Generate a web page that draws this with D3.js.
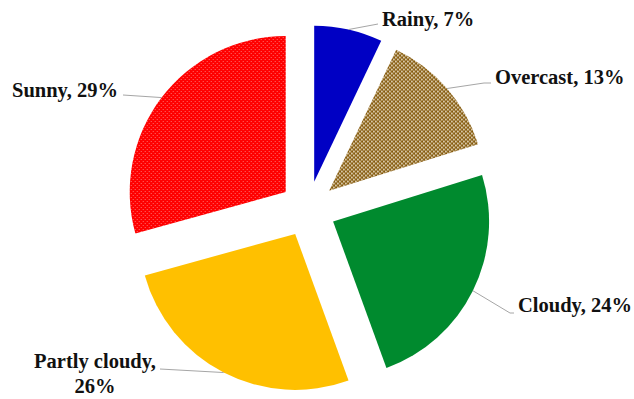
<!DOCTYPE html>
<html>
<head>
<meta charset="utf-8">
<script src="https://cdn.jsdelivr.net/npm/d3@7/dist/d3.min.js"></script>
<style>
  html, body { margin: 0; padding: 0; background: #fff; }
  svg { display: block; }
</style>
</head>
<body>
<svg id="chart" width="634" height="399"></svg>
<script>
// Weather condition shares (percent)
const categories = ["Rainy", "Overcast", "Cloudy", "Partly cloudy", "Sunny"];
const shares = [7, 13, 24, 26, 29];
const labelLines = [["Rainy, 7%"], ["Overcast, 13%"], ["Cloudy, 24%"], ["Partly cloudy,", "26%"], ["Sunny, 29%"]];

// Fills per category
const fills = ["#0000C4", "url(#brownDots)", "#008A2E", "#FFC000", "url(#redDots)"];

// Label placement: text anchor point, alignment and leader-line path after the arc point
const labelLayout = [
  { x: 382, y: 26, anchor: "start", leader: [[378, 24]] },
  { x: 495, y: 84, anchor: "start", leader: [[484, 83], [491, 83]] },
  { x: 518, y: 312, anchor: "start", leader: [[510, 313], [514, 313]] },
  { x: 95, y: 368, anchor: "middle", leader: [[160, 369]] },
  { x: 118, y: 97, anchor: "end", leader: [[123, 95]] }
];

const svg = d3.select("#chart");
const cx = 308, cy = 209, radius = 156, explode = 28;

// Patterned fills
const defs = svg.append("defs");
const brown = defs.append("pattern").attr("id", "brownDots")
  .attr("patternUnits", "userSpaceOnUse").attr("width", 4).attr("height", 4);
brown.append("rect").attr("width", 4).attr("height", 4).attr("fill", "#84590C");
brown.append("rect").attr("x", 0).attr("y", 0).attr("width", 1.6).attr("height", 1.6).attr("fill", "#FAF3E4");
brown.append("rect").attr("x", 2).attr("y", 2).attr("width", 1.6).attr("height", 1.6).attr("fill", "#FAF3E4");

const red = defs.append("pattern").attr("id", "redDots")
  .attr("patternUnits", "userSpaceOnUse").attr("width", 4).attr("height", 4);
red.append("rect").attr("width", 4).attr("height", 4).attr("fill", "#FF0000");
red.append("rect").attr("x", 1).attr("y", 1).attr("width", 1).attr("height", 1).attr("fill", "#FF7070");
red.append("rect").attr("x", 3).attr("y", 3).attr("width", 1).attr("height", 1).attr("fill", "#FF7070");

const pie = d3.pie().sort(null).value(d => d);
const arcs = pie(shares);
const arc = d3.arc().innerRadius(0).outerRadius(radius);

const g = svg.append("g").attr("transform", `translate(${cx},${cy})`);

function offset(a) {
  const mid = (a.startAngle + a.endAngle) / 2;
  return [explode * Math.sin(mid), -explode * Math.cos(mid)];
}

g.selectAll("path.slice")
  .data(arcs)
  .join("path")
  .attr("class", "slice")
  .attr("d", arc)
  .attr("fill", (d, i) => fills[i])
  .attr("transform", d => { const [dx, dy] = offset(d); return `translate(${dx},${dy})`; });

// Leader lines from the outer arc at each slice's mid-angle
const line = d3.line();
arcs.forEach((a, i) => {
  const mid = (a.startAngle + a.endAngle) / 2;
  const [dx, dy] = offset(a);
  const start = [cx + dx + radius * Math.sin(mid), cy + dy - radius * Math.cos(mid)];
  svg.append("path")
    .attr("d", line([start, ...labelLayout[i].leader]))
    .attr("fill", "none")
    .attr("stroke", "#A6A6A6")
    .attr("stroke-width", 1);
});

// Labels
labelLines.forEach((lines, i) => {
  const L = labelLayout[i];
  const t = svg.append("text")
    .attr("x", L.x).attr("y", L.y)
    .attr("text-anchor", L.anchor)
    .attr("font-family", "'Liberation Serif', 'Times New Roman', serif")
    .attr("font-weight", "bold")
    .attr("font-size", 20.5)
    .attr("fill", "#111");
  lines.forEach((s, j) => {
    t.append("tspan").attr("x", L.x).attr("dy", j === 0 ? 0 : 25).text(s);
  });
});
</script>
</body>
</html>
